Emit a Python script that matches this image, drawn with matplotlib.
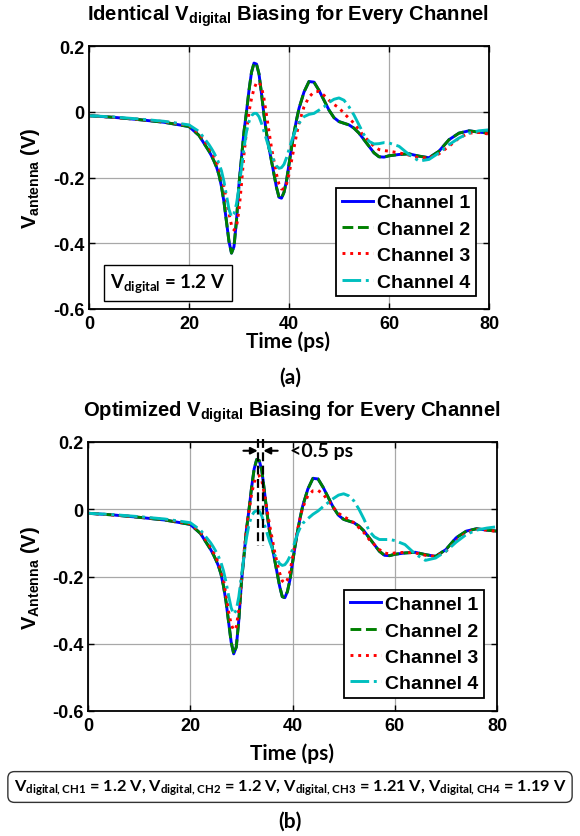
import matplotlib
matplotlib.use('Agg')
import matplotlib.pyplot as plt

plt.rcParams['font.family'] = ['Liberation Sans', 'DejaVu Sans']
plt.rcParams['font.weight'] = 'bold'
plt.rcParams['mathtext.fontset'] = 'custom'
plt.rcParams['mathtext.rm'] = 'Liberation Sans:bold'
plt.rcParams['mathtext.bf'] = 'Liberation Sans:bold'
plt.rcParams['mathtext.sf'] = 'Lato:bold'

# time axis (ps), shared by all traces
t = [0, 5, 10, 15, 20, 22,
     24, 24.5, 25, 25.5, 26, 26.5, 27, 27.5, 28, 28.5, 29, 29.5, 30, 30.5,
     31, 31.5, 32, 32.5, 33, 33.5, 34, 34.5, 35, 35.5, 36, 36.5, 37, 37.5,
     38, 38.5, 39, 39.5, 40, 40.5, 41, 41.5, 42,
     43, 44, 45, 46, 47, 48, 49, 50, 51, 52, 53, 54, 55, 56, 57, 58, 59, 60,
     62, 64, 66, 68, 70, 72, 74, 76, 78, 80]

# channel 1 / 2 (same in both panels)
ch1 = [-0.012, -0.017, -0.024, -0.032, -0.045, -0.072,
       -0.12, -0.134, -0.15, -0.168, -0.192, -0.228, -0.275, -0.335, -0.395, -0.43, -0.41, -0.33, -0.22, -0.14,
       -0.06, 0.0, 0.065, 0.12, 0.148, 0.145, 0.115, 0.055, -0.01, -0.065, -0.11, -0.15, -0.19, -0.23,
       -0.26, -0.263, -0.245, -0.21, -0.16, -0.11, -0.065, -0.025, 0.01,
       0.06, 0.092, 0.09, 0.065, 0.035, 0.005, -0.018, -0.03, -0.035, -0.04, -0.05, -0.065, -0.085, -0.105, -0.125, -0.137, -0.138, -0.134,
       -0.13, -0.128, -0.135, -0.14, -0.12, -0.085, -0.065, -0.058, -0.062, -0.065]
ch2 = list(ch1)

# panel (a): identical biasing
ch3_a = [-0.012, -0.017, -0.023, -0.030, -0.042, -0.065,
         -0.108, -0.122, -0.137, -0.153, -0.172, -0.197, -0.23, -0.27, -0.31, -0.345, -0.36, -0.35, -0.30, -0.22,
         -0.13, -0.06, 0.0, 0.04, 0.07, 0.088, 0.09, 0.075, 0.04, -0.01, -0.06, -0.11, -0.15, -0.19,
         -0.22, -0.235, -0.235, -0.22, -0.19, -0.15, -0.11, -0.07, -0.035,
         0.015, 0.045, 0.06, 0.062, 0.05, 0.035, 0.022, 0.012, -0.005, -0.02, -0.035, -0.055, -0.075, -0.09, -0.105, -0.115, -0.118, -0.12,
         -0.125, -0.132, -0.14, -0.14, -0.128, -0.105, -0.08, -0.065, -0.063, -0.068]
ch4_a = [-0.012, -0.016, -0.022, -0.029, -0.040, -0.060,
         -0.10, -0.112, -0.125, -0.14, -0.157, -0.18, -0.213, -0.255, -0.297, -0.32, -0.31, -0.28, -0.23, -0.17,
         -0.11, -0.06, -0.03, -0.012, -0.005, -0.005, -0.015, -0.035, -0.06, -0.085, -0.11, -0.13, -0.15, -0.165,
         -0.172, -0.17, -0.16, -0.14, -0.115, -0.09, -0.068, -0.05, -0.035,
         -0.015, -0.008, -0.005, 0.005, 0.015, 0.028, 0.038, 0.042, 0.035, 0.015, -0.01, -0.04, -0.07, -0.09, -0.098, -0.097, -0.094, -0.095,
         -0.105, -0.13, -0.15, -0.145, -0.125, -0.1, -0.08, -0.065, -0.058, -0.055]

# panel (b): optimized biasing
ch3_b = [-0.012, -0.017, -0.023, -0.030, -0.043, -0.068,
         -0.113, -0.127, -0.142, -0.159, -0.18, -0.21, -0.255, -0.305, -0.342, -0.36, -0.35, -0.30, -0.21, -0.13,
         -0.06, -0.005, 0.045, 0.08, 0.097, 0.10, 0.085, 0.045, 0.0, -0.045, -0.085, -0.125, -0.16, -0.19,
         -0.213, -0.22, -0.21, -0.185, -0.145, -0.1, -0.06, -0.025, 0.005,
         0.04, 0.055, 0.056, 0.045, 0.025, 0.005, -0.012, -0.022, -0.03, -0.04, -0.055, -0.07, -0.09, -0.105, -0.12, -0.13, -0.133, -0.13,
         -0.128, -0.13, -0.137, -0.14, -0.125, -0.095, -0.07, -0.06, -0.062, -0.066]
ch4_b = [-0.012, -0.016, -0.022, -0.029, -0.040, -0.062,
         -0.10, -0.112, -0.125, -0.14, -0.158, -0.183, -0.217, -0.257, -0.293, -0.312, -0.30, -0.26, -0.20, -0.14,
         -0.085, -0.045, -0.02, -0.008, -0.004, -0.006, -0.02, -0.045, -0.07, -0.095, -0.115, -0.135, -0.15, -0.162,
         -0.167, -0.165, -0.155, -0.14, -0.12, -0.095, -0.072, -0.055, -0.042,
         -0.028, -0.015, -0.005, 0.008, 0.02, 0.032, 0.042, 0.046, 0.04, 0.025, 0.0, -0.03, -0.065, -0.082, -0.09, -0.09, -0.09, -0.093,
         -0.105, -0.133, -0.152, -0.145, -0.125, -0.098, -0.075, -0.062, -0.056, -0.052]

labels = ['Channel 1', 'Channel 2', 'Channel 3', 'Channel 4']
colors = ['#0000ff', '#008000', '#ff0000', '#00bfbf']
styles = ['-', '--', ':', '-.']
xticks = [0, 20, 40, 60, 80]
yticks = [-0.6, -0.4, -0.2, 0, 0.2]
ytick_labels = ['-0.6', '-0.4', '-0.2', '0', '0.2']

W, H = 580, 837
fig = plt.figure(figsize=(W / 100, H / 100), dpi=100)


def px_axes(left, top, right, bottom):
    return fig.add_axes([left / W, 1 - bottom / H, (right - left) / W, (bottom - top) / H])


def draw_panel(ax, series):
    for y, lab, c, ls in zip(series, labels, colors, styles):
        ax.plot(t, y, ls, color=c, lw=2.1, label=lab)
    ax.set_xlim(0, 80)
    ax.set_ylim(-0.6, 0.2)
    ax.set_xticks(xticks)
    ax.set_xticklabels([str(v) for v in xticks])
    ax.set_yticks(yticks)
    ax.set_yticklabels(ytick_labels)
    ax.tick_params(direction='in', top=True, right=True, length=4, width=1, labelsize=13)
    ax.tick_params(axis='x', pad=4.5)
    ax.tick_params(axis='y', pad=3.5)
    ax.grid(True, color='#a8a8a8', lw=0.9)
    ax.set_axisbelow(True)
    for s in ax.spines.values():
        s.set_linewidth(1.3)
    leg = ax.legend(loc='lower right', bbox_to_anchor=(0.968, 0.048), borderaxespad=0,
                    fontsize=14, handlelength=1.6, handletextpad=0.2, labelspacing=0.45,
                    borderpad=0.3, fancybox=False, edgecolor='k', framealpha=1)
    leg.get_frame().set_linewidth(1.3)


# ---- panel (a)
ax1 = px_axes(89, 47, 489, 310)
draw_panel(ax1, [ch1, ch2, ch3_a, ch4_a])
fig.text(288 / W, 1 - 21 / H, r'Identical $\mathbf{V_{digital}}$ Biasing for Every Channel',
         ha='center', va='baseline', fontsize=14.6, fontweight='bold')
fig.text(30.5 / W, 1 - 178 / H, r'$\mathbf{V_{antenna}}$ (V)', rotation=90,
         ha='center', va='center', fontsize=14.5, fontweight='bold')
ax1.text(0.1975, 0.10, r'$\mathsf{V_{digital}}$ = 1.2 V', transform=ax1.transAxes,
         ha='center', va='center', fontsize=13.5, family='Lato', fontweight='bold',
         bbox=dict(boxstyle='square,pad=0.35', fc='white', ec='k', lw=1.0))
fig.text(288 / W, 1 - 342 / H, 'Time (ps)', ha='center', va='center',
         fontsize=15, family='Lato', fontweight='bold')
fig.text(290 / W, 1 - 378 / H, '(a)', ha='center', va='center',
         fontsize=15, family='Lato', fontweight='bold')

# ---- panel (b)
ax2 = px_axes(88, 443, 497, 712)
draw_panel(ax2, [ch1, ch2, ch3_b, ch4_b])
fig.text(292 / W, 1 - 417 / H, r'Optimized $\mathbf{V_{digital}}$ Biasing for Every Channel',
         ha='center', va='baseline', fontsize=14.6, fontweight='bold')
fig.text(30.5 / W, 1 - 578 / H, r'$\mathbf{V_{Antenna}}$ (V)', rotation=90,
         ha='center', va='center', fontsize=14.5, fontweight='bold')

# peak alignment marker
for xv in [33.3, 34.2]:
    ax2.plot([xv, xv], [0.21, -0.11], '--', color='k', lw=1.6, dashes=(4, 2), clip_on=False)
ax2.annotate('', xy=(33.2, 0.174), xytext=(30.4, 0.174),
             arrowprops=dict(arrowstyle='-|>', color='k', lw=1.5, mutation_scale=10,
                             shrinkA=0, shrinkB=0))
ax2.annotate('', xy=(34.3, 0.174), xytext=(37.1, 0.174),
             arrowprops=dict(arrowstyle='-|>', color='k', lw=1.5, mutation_scale=10,
                             shrinkA=0, shrinkB=0))
ax2.text(39.5, 0.174, '<0.5 ps', ha='left', va='center', fontsize=14,
         family='Lato', fontweight='bold')

fig.text(292 / W, 1 - 754 / H, 'Time (ps)', ha='center', va='center',
         fontsize=15, family='Lato', fontweight='bold')
fig.text(290 / W, 1 - 788 / H,
         r'$\mathsf{V_{digital,CH1}}$ = 1.2 V, $\mathsf{V_{digital,CH2}}$ = 1.2 V, '
         r'$\mathsf{V_{digital,CH3}}$ = 1.21 V, $\mathsf{V_{digital,CH4}}$ = 1.19 V',
         ha='center', va='center', fontsize=11.8, family='Lato', fontweight='bold',
         bbox=dict(boxstyle='round,pad=0.35,rounding_size=0.4', fc='white', ec='#333333', lw=1.0))
fig.text(290 / W, 1 - 822 / H, '(b)', ha='center', va='center',
         fontsize=15, family='Lato', fontweight='bold')

fig.savefig('out.png', dpi=100)
